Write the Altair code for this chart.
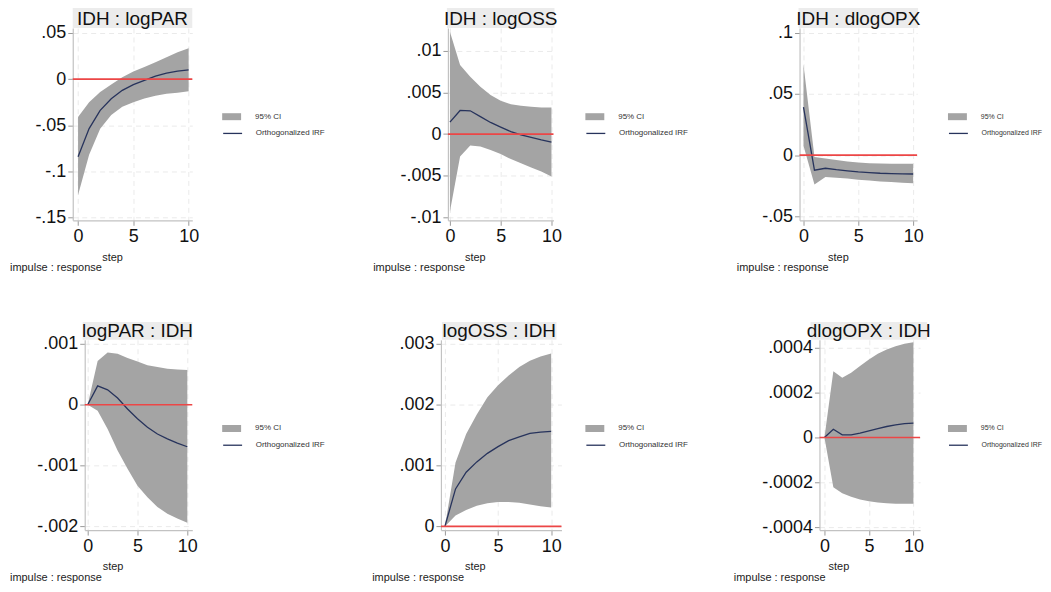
import altair as alt
import pandas as pd

FONT = "Liberation Sans"
GRAY = "#a4a4a4"
NAVY = "#27335c"
RED = "#ec4646"

steps = [0, 1, 2, 3, 4, 5, 6, 7, 8, 9, 10]
x_ticks = [0, 5, 10]
legend_labels = ["95% CI", "Orthogonalized IRF"]
note_text = "impulse : response"
x_title = "step"

titles = ["IDH : logPAR", "IDH : logOSS", "IDH : dlogOPX",
          "logPAR : IDH", "logOSS : IDH", "dlogOPX : IDH"]

# IDH : logPAR
p1_irf = [-0.0843, -0.0537, -0.0339, -0.0213, -0.0122, -0.0061, -0.0014, 0.0032, 0.0065, 0.0086, 0.0101]
p1_lo = [-0.1257, -0.082, -0.054, -0.039, -0.030, -0.025, -0.021, -0.018, -0.016, -0.0148, -0.0133]
p1_hi = [-0.041, -0.025, -0.014, -0.006, 0.002, 0.0083, 0.013, 0.0184, 0.0238, 0.029, 0.0335]
p1_yticks = [-0.15, -0.1, -0.05, 0, 0.05]

# IDH : logOSS
p2_irf = [0.00144, 0.00284, 0.0028, 0.0021, 0.0014, 0.00084, 0.0003, -0.0001, -0.0004, -0.0007, -0.00096]
p2_lo = [-0.0093, -0.0027, -0.00136, -0.0015, -0.0019, -0.0024, -0.003, -0.0035, -0.004, -0.0045, -0.0051]
p2_hi = [0.0123, 0.0083, 0.0069, 0.0057, 0.0047, 0.0040, 0.0036, 0.0034, 0.0033, 0.0032, 0.0032]
p2_yticks = [-0.01, -0.005, 0, 0.005, 0.01]

# IDH : dlogOPX
p3_irf = [0.0393, -0.0123, -0.0107, -0.0119, -0.0128, -0.0137, -0.0143, -0.0148, -0.0151, -0.0153, -0.0154]
p3_lo = [0.0076, -0.024, -0.0178, -0.0184, -0.019, -0.0200, -0.0207, -0.0215, -0.022, -0.0225, -0.0230]
p3_hi = [0.074, -0.0015, -0.0028, -0.004, -0.0052, -0.006, -0.0066, -0.0069, -0.007, -0.007, -0.007]
p3_yticks = [-0.05, 0, 0.05, 0.1]

# logPAR : IDH
p4_irf = [0, 0.00031, 0.000245, 0.00011, -0.00007, -0.00023, -0.00037, -0.00048, -0.00056, -0.00063, -0.00069]
p4_lo = [0, -0.0001, -0.0004, -0.00075, -0.00105, -0.00133, -0.00152, -0.00168, -0.00179, -0.00187, -0.00194]
p4_hi = [0, 0.00072, 0.00086, 0.00084, 0.00077, 0.00071, 0.00065, 0.00062, 0.00059, 0.00058, 0.00057]
p4_yticks = [-0.002, -0.001, 0, 0.001]

# logOSS : IDH
p5_irf = [0, 0.000616, 0.00089, 0.00106, 0.0012, 0.00131, 0.00141, 0.00147, 0.00153, 0.00155, 0.00156]
p5_lo = [0, 0.00018, 0.00027, 0.00034, 0.00038, 0.0004, 0.0004, 0.00039, 0.00036, 0.00033, 0.00031]
p5_hi = [0, 0.00105, 0.00152, 0.00184, 0.00212, 0.00232, 0.00248, 0.00262, 0.00272, 0.00279, 0.00284]
p5_yticks = [0, 0.001, 0.002, 0.003]

# dlogOPX : IDH
p6_irf = [0, 0.000037, 0.000012, 0.000012, 0.000019, 0.00003, 0.00004, 0.000049, 0.000056, 0.000062, 0.000064]
p6_lo = [0, -0.000222, -0.000249, -0.000264, -0.000276, -0.000284, -0.00029, -0.000293, -0.000296, -0.000296, -0.000296]
p6_hi = [0, 0.000296, 0.000267, 0.000289, 0.000319, 0.000348, 0.000373, 0.000393, 0.000407, 0.000418, 0.000425]
p6_yticks = [-0.0004, -0.0002, 0, 0.0002, 0.0004]

zero_line = [0]

# layout (sizes / positions only)
panels = [
    dict(title=titles[0], irf=p1_irf, lo=p1_lo, hi=p1_hi, yticks=p1_yticks,
         ydom=[-0.1532, 0.0554], xdom=[-0.48, 10.33], w=120, h=193, tb=20,
         bx=(0, 120), ndx=-63, stepx=39.5, lx=152.5, lfs=8),
    dict(title=titles[1], irf=p2_irf, lo=p2_lo, hi=p2_hi, yticks=p2_yticks,
         ydom=[-0.01036, 0.01275], xdom=[-0.2, 10.2], w=106, h=193, tb=20,
         bx=(-1, 107), ndx=-75, stepx=27, lx=140.5, lfs=8),
    dict(title=titles[2], irf=p3_irf, lo=p3_lo, hi=p3_hi, yticks=p3_yticks,
         ydom=[-0.0532, 0.1038], xdom=[-0.36, 10.36], w=118, h=193, tb=20,
         bx=(-1, 119), ndx=-63, stepx=38.5, lx=151.5, lfs=7),
    dict(title=titles[3], irf=p4_irf, lo=p4_lo, hi=p4_hi, yticks=p4_yticks,
         ydom=[-0.00206, 0.001067], xdom=[-0.3, 10.5], w=108, h=191, tb=18,
         bx=(-2, 108), ndx=-75, stepx=28, lx=140.5, lfs=8),
    dict(title=titles[4], irf=p5_irf, lo=p5_lo, hi=p5_hi, yticks=p5_yticks,
         ydom=[-0.0000606, 0.003065], xdom=[-0.375, 10.97], w=121, h=191, tb=18,
         bx=(1, 116), ndx=-69, stepx=34, lx=147.5, lfs=8),
    dict(title=titles[5], irf=p6_irf, lo=p6_lo, hi=p6_hi, yticks=p6_yticks,
         ydom=[-0.000413, 0.0004356], xdom=[-0.56, 10.75], w=101, h=191, tb=18,
         bx=(-9, 108), ndx=-86, stepx=19, lx=131.5, lfs=7),
]

LABEL_EXPR = ("datum.value == 0 ? '0' : (datum.value < 0 ? '-' : '') + "
              "replace(format(abs(datum.value), '~g'), '0.', '.')")
RECT_PATH = "M-1.357,-0.5H1.357V0.5H-1.357Z"
LINE_PATH = "M-1.357,0H1.357"


def make_panel(p):
    df = pd.DataFrame({"step": steps, "irf": p["irf"], "lo": p["lo"], "hi": p["hi"]})
    df["ci"] = legend_labels[0]
    df["series"] = legend_labels[1]
    w, h = p["w"], p["h"]
    xs = alt.Scale(domain=p["xdom"], nice=False, zero=False)
    ys = alt.Scale(domain=p["ydom"], nice=False, zero=False)
    xax = alt.Axis(values=x_ticks, title=x_title, titleX=p["stepx"], titleY=40,
                   titleBaseline="alphabetic", titleAlign="center", format="d")
    yax = alt.Axis(values=p["yticks"], title=None, labelExpr=LABEL_EXPR)

    area = alt.Chart(df).mark_area(opacity=1).encode(
        x=alt.X("step:Q", scale=xs, axis=xax),
        y=alt.Y("lo:Q", scale=ys, axis=yax),
        y2="hi:Q",
        fill=alt.Fill("ci:N", scale=alt.Scale(domain=[legend_labels[0]], range=[GRAY]),
                      legend=alt.Legend(title=None, orient="none", legendX=p["lx"], legendY=82,
                                        symbolType=RECT_PATH, symbolSize=196,
                                        symbolStrokeWidth=0, symbolOpacity=1,
                                        labelFont=FONT, labelFontSize=p["lfs"], labelColor="#333",
                                        labelOffset=16.5, padding=0)),
    )
    line = alt.Chart(df).mark_line(strokeWidth=1.3).encode(
        x=alt.X("step:Q", scale=xs, axis=xax),
        y=alt.Y("irf:Q", scale=ys, axis=yax),
        stroke=alt.Stroke("series:N", scale=alt.Scale(domain=[legend_labels[1]], range=[NAVY]),
                          legend=alt.Legend(title=None, orient="none", legendX=p["lx"], legendY=97.8,
                                            symbolType=LINE_PATH, symbolSize=196,
                                            symbolStrokeWidth=1.3,
                                            labelFont=FONT, labelFontSize=p["lfs"], labelColor="#333",
                                            labelOffset=15.2, padding=0)),
    )
    zero = alt.Chart(pd.DataFrame({"z": zero_line})).mark_rule(color=RED, strokeWidth=1.6).encode(
        y=alt.Y("z:Q", scale=ys, axis=yax)
    )
    tdf = pd.DataFrame({"t": [p["title"]]})
    bx0, bx1 = p["bx"]
    bg = alt.Chart(tdf).mark_rect(color="#ececec").encode(
        x=alt.value(bx0), x2=alt.value(bx1), y=alt.value(-p["tb"]), y2=alt.value(0)
    )
    ttl = alt.Chart(tdf).mark_text(font=FONT, fontSize=19, color="#111", align="center",
                                   baseline="alphabetic").encode(
        text="t:N", x=alt.value((bx0 + bx1) / 2), y=alt.value(-3)
    )
    note = alt.Chart(pd.DataFrame({"n": [note_text]})).mark_text(
        font=FONT, fontSize=11, color="#222", align="left", baseline="alphabetic"
    ).encode(text="n:N", x=alt.value(p["ndx"]), y=alt.value(h + 51))
    return alt.layer(bg, ttl, area, line, zero, note).properties(width=w, height=h)


def spacer():
    # invisible 1px anchor so that each row's left edge lines up on the notes
    return alt.Chart(pd.DataFrame({"s": [0]})).mark_rect(color="white").encode(
        x=alt.value(0), x2=alt.value(1), y=alt.value(0), y2=alt.value(1)
    ).properties(width=1, height=1)


RES = dict(fill="independent", stroke="independent")


def make_row(ps, s_ab, s_bc):
    ab = alt.hconcat(make_panel(ps[0]), make_panel(ps[1]), spacing=s_ab).resolve_scale(**RES)
    abc = alt.hconcat(ab, make_panel(ps[2]), spacing=s_bc).resolve_scale(**RES)
    return alt.hconcat(spacer(), abc, spacing=0).resolve_scale(**RES)


row1 = make_row(panels[:3], 47.6, 47.6)
row2 = make_row(panels[3:], 46.6, 44.6)

chart = alt.vconcat(row1, row2, spacing=49).resolve_scale(**RES).properties(
    padding={"left": 1, "top": -1, "right": 0, "bottom": -1},
    background="white",
).configure_view(stroke=None).configure_axis(
    labelFont=FONT, labelFontSize=18, labelColor="#111", labelPadding=2,
    labelFlush=False, labelOverlap=False,
    domainColor="#c2c2c2", domainWidth=1.2,
    tickColor="#9a9a9a", tickSize=5, tickWidth=1,
    grid=True, gridColor="#eaeaea", gridDash=[5, 4], gridWidth=1,
    titleFont=FONT, titleFontSize=11, titleFontWeight="normal", titleColor="#222",
)

chart.save("out.html", embed_options={"renderer": "svg", "actions": False})
